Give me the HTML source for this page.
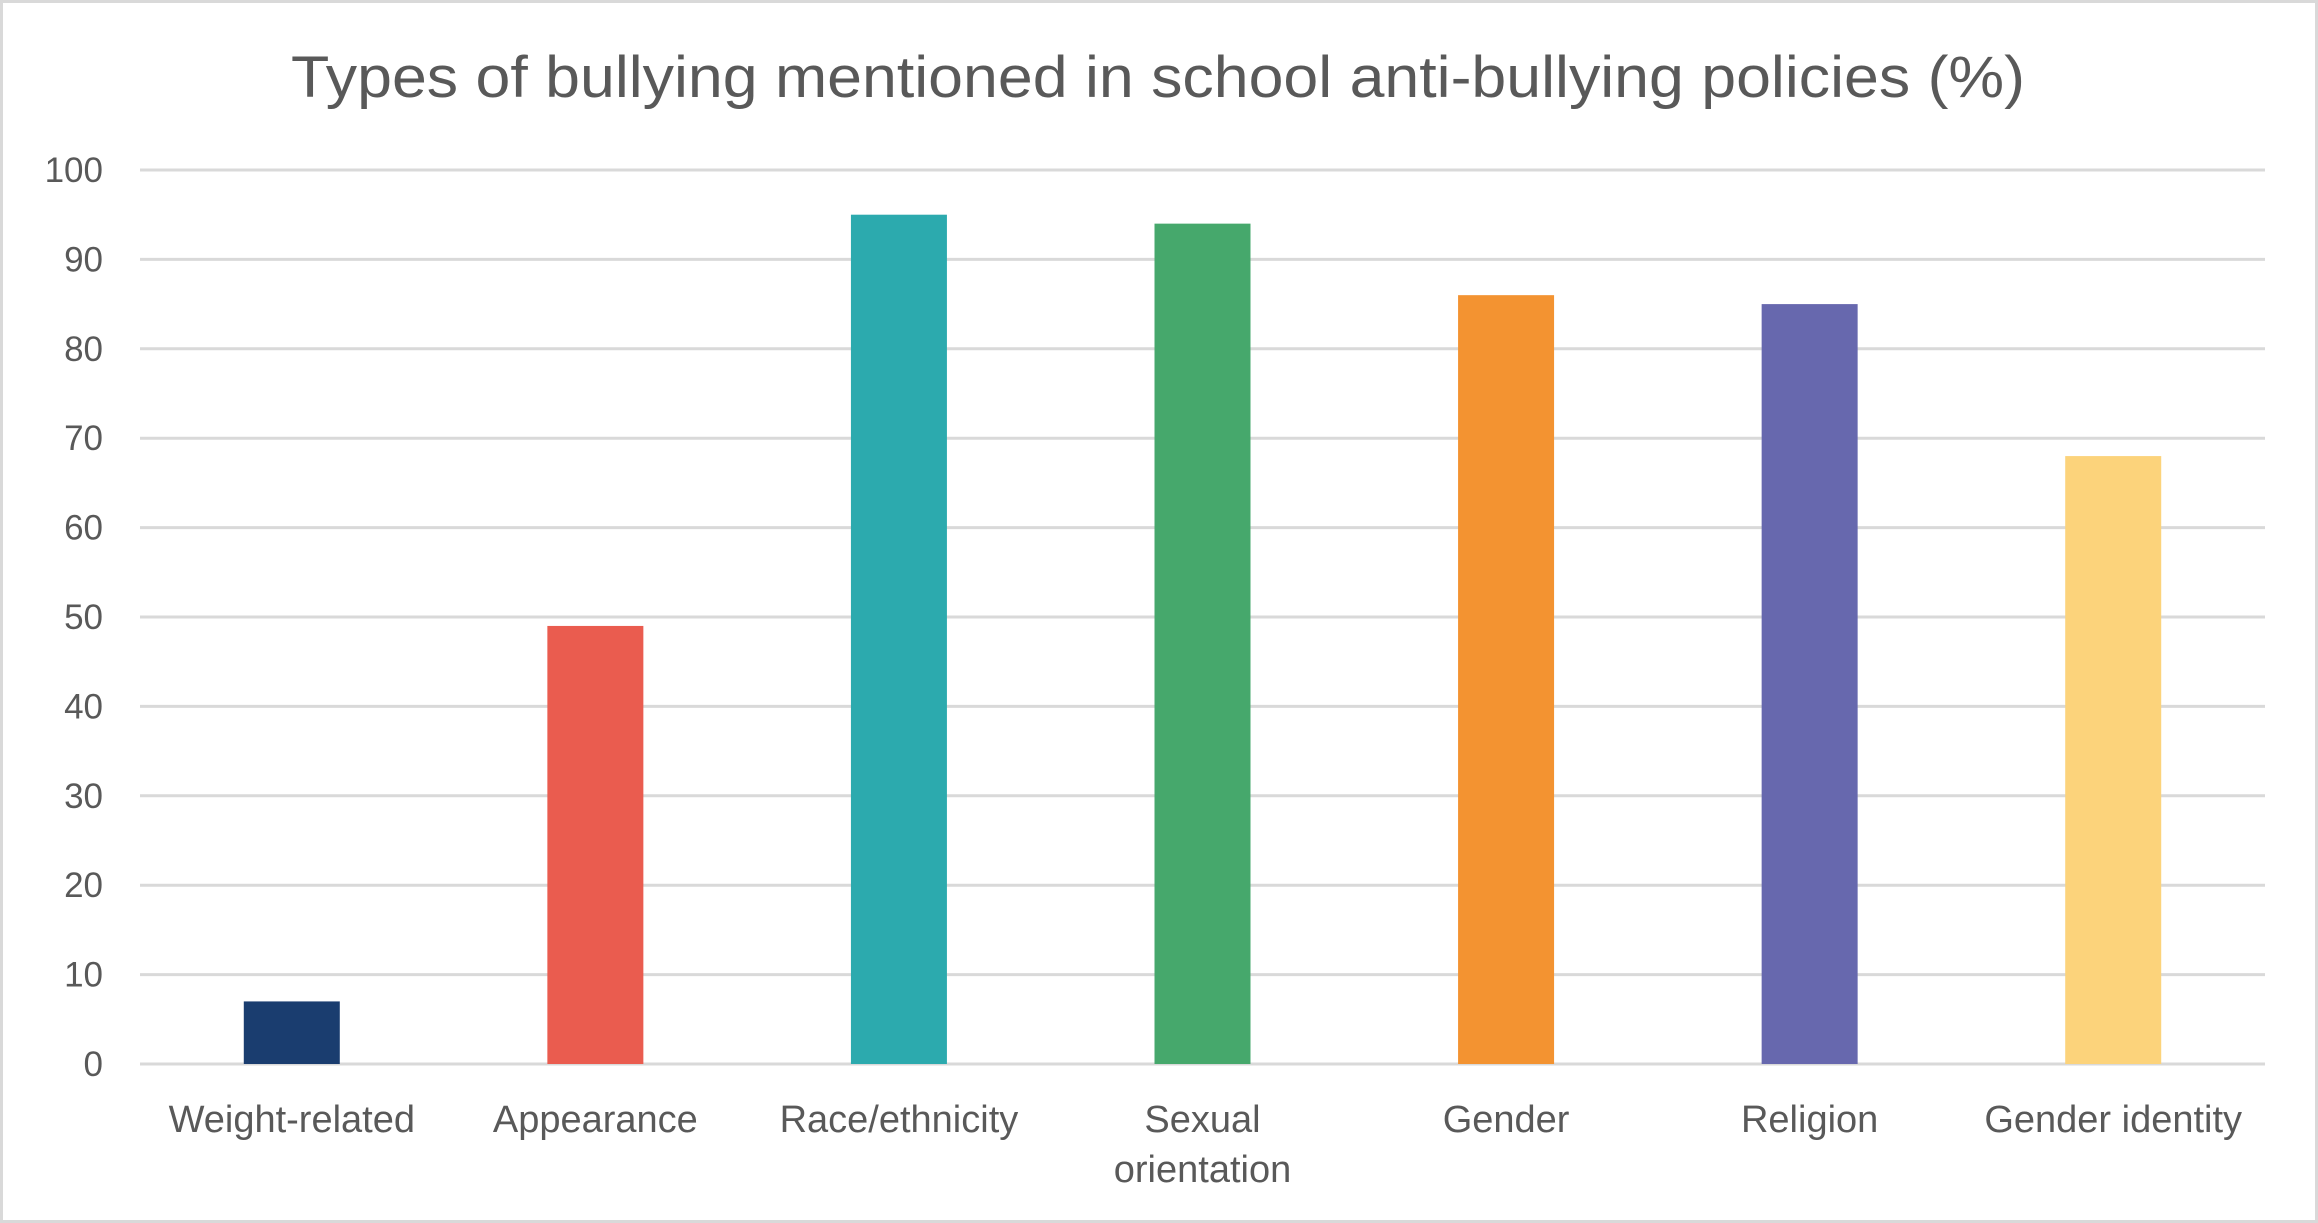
<!DOCTYPE html>
<html><head><meta charset="utf-8"><style>
html,body{margin:0;padding:0;background:#fff;}
svg{display:block;font-family:"Liberation Sans",sans-serif;}
</style></head><body>
<svg id="chart" width="2318" height="1223" viewBox="0 0 2318 1223">
<rect x="1.5" y="1.5" width="2315" height="1220" fill="#fff" stroke="#d9d9d9" stroke-width="3"/>
<text x="1158" y="97" text-anchor="middle" font-size="58" fill="#595959" textLength="1734" lengthAdjust="spacingAndGlyphs">Types of bullying mentioned in school anti-bullying policies (%)</text>
<g id="grid"></g><g id="bars"></g><g id="labels"></g>
</svg>
<script>
const categories = ["Weight-related","Appearance","Race/ethnicity","Sexual orientation","Gender","Religion","Gender identity"];
const values = [7, 49, 95, 94, 86, 85, 68];
const colors = ["#1a3d6f","#ea5c4f","#2caaae","#46a86c","#f39331","#6768ae","#fcd37b"];
const ticks = [0,10,20,30,40,50,60,70,80,90,100];
const labelLines = [["Weight-related"],["Appearance"],["Race/ethnicity"],["Sexual","orientation"],["Gender"],["Religion"],["Gender identity"]];
const NS="http://www.w3.org/2000/svg";
const L=140,R=2265,T=170,B=1064;
const y=v=>B-(v/100)*(B-T);
const cw=(R-L)/categories.length;
const x=i=>L+cw*(i+0.5);
const bw=96;
const grid=document.getElementById('grid'),bars=document.getElementById('bars'),labels=document.getElementById('labels');
ticks.forEach(t=>{
  const ln=document.createElementNS(NS,'line');
  ln.setAttribute('x1',L);ln.setAttribute('x2',R);ln.setAttribute('y1',y(t));ln.setAttribute('y2',y(t));
  ln.setAttribute('stroke','#d9d9d9');ln.setAttribute('stroke-width','3');
  
  
  grid.appendChild(ln);
  const tx=document.createElementNS(NS,'text');
  tx.setAttribute('x',103);tx.setAttribute('y',y(t)+12);tx.setAttribute('text-anchor','end');
  tx.setAttribute('font-size','35');tx.setAttribute('fill','#595959');tx.textContent=t;
  
  
  grid.appendChild(tx);
});
values.forEach((v,i)=>{
  const r=document.createElementNS(NS,'rect');
  r.setAttribute('x',x(i)-bw/2);r.setAttribute('y',y(v));r.setAttribute('width',bw);r.setAttribute('height',B-y(v));
  r.setAttribute('fill',colors[i]);
  
  
  bars.appendChild(r);
  labelLines[i].forEach((s,j)=>{
    const tx=document.createElementNS(NS,'text');
    tx.setAttribute('x',x(i));tx.setAttribute('y',1132+j*50);tx.setAttribute('text-anchor','middle');
    tx.setAttribute('font-size','38');tx.setAttribute('fill','#595959');tx.textContent=s;
    
    
    labels.appendChild(tx);
  });
});
</script>
</body></html>
